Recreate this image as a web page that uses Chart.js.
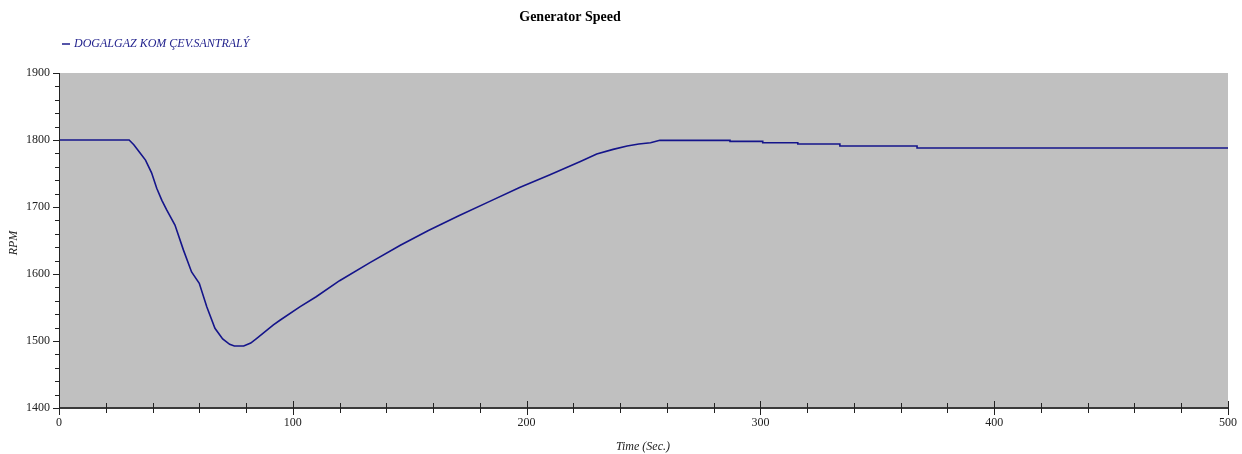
<!DOCTYPE html>
<html>
<head>
<meta charset="utf-8">
<script src="https://cdn.jsdelivr.net/npm/chart.js@4.4.0/dist/chart.umd.min.js"></script>
<style>
  html, body { margin: 0; padding: 0; background: #ffffff; }
  canvas { display: block; }
</style>
</head>
<body>
<canvas id="speedChart" width="1242" height="454"></canvas>
<script>
// Datos (tiempo en segundos, velocidad en RPM)
const chartTitle = 'Generator Speed';
const seriesName = 'DOGALGAZ KOM ÇEV.SANTRALÝ';
const timeSec = [0, 30, 32, 34.6, 37, 39.6, 41.8, 44, 46, 49.6, 53.2, 56.7, 60, 63.2, 66.7, 70, 73, 75, 79, 82, 84.6,
    91.7, 94.5, 103, 110, 120, 133, 146, 158, 171, 184, 197, 210, 223, 230, 237, 243, 248, 253, 257,
    287, 287, 301, 301, 316, 316, 334, 334, 367, 367, 500];
const rpmValues = [1800, 1800, 1793, 1781, 1770, 1751, 1728, 1710, 1696, 1673, 1636, 1603, 1586, 1551, 1519, 1503, 1495, 1492.5, 1492.5, 1497, 1504,
    1524, 1531, 1551, 1566, 1590, 1617, 1643, 1665, 1687, 1708, 1729, 1748, 1768, 1779, 1786, 1791, 1794, 1796, 1799.5,
    1799.5, 1798, 1798, 1796, 1796, 1794, 1794, 1791, 1791, 1788, 1788];
const xTickLabels = [0, 100, 200, 300, 400, 500];
const yTickLabels = [1400, 1500, 1600, 1700, 1800, 1900];

const points = timeSec.map((t, i) => ({ x: t, y: rpmValues[i] }));

// Plugin: fondo gris, marcas de ejes, titulo, leyenda y titulos de ejes
const decorations = {
    id: 'decorations',
    beforeDraw(chart) {
        const { ctx, chartArea: a } = chart;
        ctx.save();
        ctx.fillStyle = '#c0c0c0';
        ctx.fillRect(a.left, a.top, a.right - a.left, a.bottom - a.top);
        ctx.restore();
    },
    afterDraw(chart) {
        const { ctx, chartArea: a, scales } = chart;
        ctx.save();
        // eje x
        ctx.strokeStyle = '#3a3a3a';
        ctx.lineWidth = 2;
        ctx.beginPath();
        ctx.moveTo(a.left, a.bottom);
        ctx.lineTo(a.right, a.bottom);
        ctx.stroke();
        ctx.lineWidth = 1;
        ctx.strokeStyle = '#222';
        for (let v = 0; v <= 500; v += 20) {
            const px = Math.round(scales.x.getPixelForValue(v)) + 0.5;
            const len = v % 100 === 0 ? 7 : 5;
            ctx.beginPath();
            ctx.moveTo(px, a.bottom - len);
            ctx.lineTo(px, a.bottom + len);
            ctx.stroke();
        }
        // eje y
        ctx.beginPath();
        ctx.moveTo(a.left + 0.5, a.top);
        ctx.lineTo(a.left + 0.5, a.bottom);
        ctx.stroke();
        for (let v = 1400; v <= 1900; v += 20) {
            const py = Math.round(scales.y.getPixelForValue(v)) + 0.5;
            const len = v % 100 === 0 ? 6 : 4;
            ctx.beginPath();
            ctx.moveTo(a.left - len, py);
            ctx.lineTo(a.left, py);
            ctx.stroke();
        }
        // titulo
        ctx.fillStyle = '#000';
        ctx.font = 'bold 14px "Liberation Serif"';
        ctx.textAlign = 'center';
        ctx.textBaseline = 'middle';
        ctx.fillText(chartTitle, 570, 17);
        // leyenda
        ctx.strokeStyle = '#1c1c8c';
        ctx.lineWidth = 1.5;
        ctx.beginPath();
        ctx.moveTo(62, 44);
        ctx.lineTo(70, 44);
        ctx.stroke();
        ctx.fillStyle = '#24248e';
        ctx.font = 'italic 12px "Liberation Serif"';
        ctx.textAlign = 'left';
        ctx.fillText(seriesName, 74, 44);
        // titulos de ejes
        ctx.fillStyle = '#222';
        ctx.font = 'italic 12px "Liberation Serif"';
        ctx.textAlign = 'center';
        ctx.fillText('Time (Sec.)', 643, 447);
        ctx.translate(14, 243);
        ctx.rotate(-Math.PI / 2);
        ctx.fillText('RPM', 0, 0);
        ctx.restore();
    }
};

const ctx = document.getElementById('speedChart').getContext('2d');
new Chart(ctx, {
    type: 'line',
    data: {
        datasets: [{
            label: seriesName,
            data: points,
            borderColor: '#14148a',
            borderWidth: 1.6,
            pointRadius: 0,
            tension: 0,
            fill: false
        }]
    },
    options: {
        responsive: false,
        animation: false,
        layout: { padding: { top: 73, right: 14, left: 0, bottom: 0 } },
        plugins: {
            legend: { display: false },
            title: { display: false },
            tooltip: { enabled: false }
        },
        scales: {
            x: {
                type: 'linear',
                min: 0,
                max: 500,
                afterFit: s => { s.height = 46; s.paddingLeft = 0; s.paddingRight = 0; },
                afterBuildTicks: s => { s.ticks = xTickLabels.map(v => ({ value: v })); },
                grid: { display: true, drawOnChartArea: false, drawTicks: false },
                border: { display: false },
                ticks: {
                    padding: 8,
                    color: '#222',
                    font: { family: 'Liberation Serif', size: 12 },
                    maxRotation: 0,
                    callback: v => String(v)
                }
            },
            y: {
                type: 'linear',
                min: 1400,
                max: 1900,
                afterFit: s => { s.width = 59; s.paddingTop = 0; s.paddingBottom = 0; },
                afterBuildTicks: s => { s.ticks = yTickLabels.map(v => ({ value: v })); },
                grid: { display: true, drawOnChartArea: false, drawTicks: false },
                border: { display: false },
                ticks: {
                    padding: 9,
                    color: '#222',
                    font: { family: 'Liberation Serif', size: 12 },
                    callback: v => String(v)
                }
            }
        }
    },
    plugins: [decorations]
});
</script>
</body>
</html>
